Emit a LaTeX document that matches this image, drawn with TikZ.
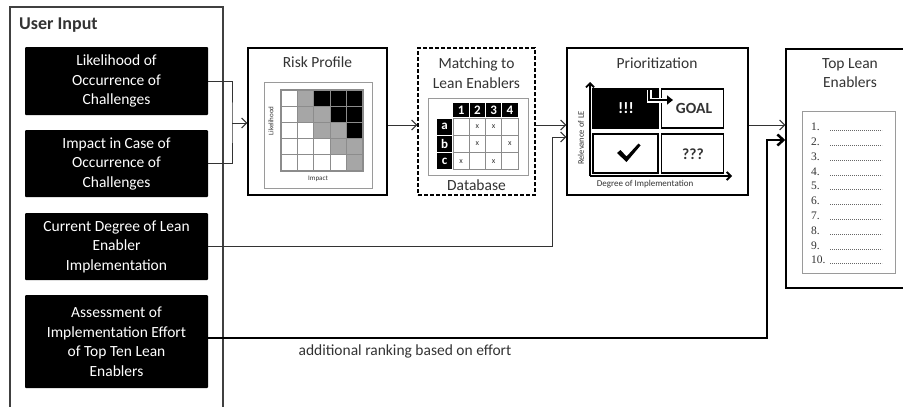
\documentclass[tikz,border=0pt]{standalone}
\usepackage{fontspec}
\setmainfont{Carlito}
\newfontfamily\listfont{Liberation Serif}
\usetikzlibrary{arrows.meta}
\definecolor{txt}{HTML}{333333}
\definecolor{cellgray}{HTML}{A6A6A6}
\definecolor{gridline}{HTML}{8C8C8C}
\definecolor{framegray}{HTML}{9A9A9A}
\begin{document}
\begin{tikzpicture}[x=1pt,y=-1pt,
  inbox/.style={fill=black, text=white, font=\fontsize{15.5}{19.5}\selectfont, align=center, minimum width=183pt, inner sep=0pt, rounded corners=1pt},
  stage/.style={draw=black, line width=1.5pt, fill=white, inner sep=0pt},
  ttl/.style={text=txt, font=\fontsize{15.5}{19.5}\selectfont, align=center, inner sep=0pt},
  small/.style={text=txt, font=\fontsize{8}{9}\selectfont, inner sep=0pt},
  conn/.style={draw=black!80, line width=1pt},
  barb/.style={-{Straight Barb[length=5pt,width=10pt]}},
  innerframe/.style={draw=framegray, line width=1pt},
  quad/.style={draw=black, line width=1.2pt, inner sep=0pt}
]
\useasboundingbox (0,0) rectangle (903,407);
\clip (0,0) rectangle (903,407);

% User input frame
\node[draw=black!75, line width=1.2pt, minimum width=213pt, minimum height=430pt, inner sep=0pt] (userinput) at (116.5,222) {};
\node[anchor=west, text=txt, font=\bfseries\fontsize{18}{20}\selectfont, inner sep=0pt] (uititle) at (19,25) {User Input};

\node[inbox, minimum height=68pt] (b1) at (116.5,81) {Likelihood of\\Occurrence of\\Challenges};
\node[inbox, minimum height=67pt] (b2) at (116.5,163.5) {Impact in Case of\\Occurrence of\\Challenges};
\node[inbox, minimum height=67pt] (b3) at (116.5,246.5) {Current Degree of Lean\\Enabler\\Implementation};
\node[inbox, minimum height=93pt] (b4) at (116.5,341.5) {Assessment of\\Implementation Effort\\of Top Ten Lean\\Enablers};

% Stage boxes
\node[stage, minimum width=139pt, minimum height=147pt] (risk) at (317.5,121.5) {};
\node[ttl] (risktitle) at (317.5,62) {Risk Profile};
\node[stage, dashed, dash pattern=on 4pt off 2pt, minimum width=117pt, minimum height=147pt] (match) at (476.5,121.5) {};
\node[ttl] (matchtitle) at (476.5,73) {Matching to\\Lean Enablers};
\node[ttl] (dbtitle) at (476.5,185) {Database};
\node[stage, minimum width=181pt, minimum height=147pt] (prio) at (657.5,121.5) {};
\node[ttl] (priotitle) at (657,63) {Prioritization};
\node[stage, minimum width=125pt, minimum height=239pt] (top) at (848.5,168.5) {};
\node[ttl] (toptitle) at (850,73) {Top Lean\\Enablers};

% Risk profile matrix
\draw[innerframe] (264,82) rectangle (372,188);
\foreach \c/\r/\col in {0/0/white,1/0/cellgray,2/0/black,3/0/black,4/0/black,
  0/1/white,1/1/cellgray,2/1/cellgray,3/1/black,4/1/black,
  0/2/white,1/2/white,2/2/cellgray,3/2/cellgray,4/2/black,
  0/3/white,1/3/white,2/3/white,3/3/cellgray,4/3/cellgray,
  0/4/white,1/4/white,2/4/white,3/4/white,4/4/cellgray}
  \filldraw[fill=\col, draw=gridline, line width=1.2pt] ({281+\c*16.4},{90+\r*16.2}) rectangle ++(16.4,16.2);
\node[small, font=\fontsize{7}{8}\selectfont, rotate=90] (likel) at (271,121) {Likelihood};
\node[small, font=\fontsize{7}{8}\selectfont] (impact) at (318,179) {Impact};

% Matching table
\draw[innerframe] (428,98) rectangle (528,175);
\foreach \c in {1,...,4}
  \node[fill=black, text=white, font=\bfseries\fontsize{13}{14}\selectfont, minimum width=15.3pt, minimum height=13.5pt, inner sep=0pt] (hd\c) at ({453+(\c-0.5)*16.25},109.8) {\c};
\foreach \l/\j in {a/0,b/1,c/2}
  \node[fill=black, text=white, font=\bfseries\fontsize{13}{14}\selectfont, minimum width=15pt, minimum height=16.3pt, inner sep=0pt] (rl\l) at (444.5,{118+(\j+0.5)*17.3}) {\l};
\foreach \c in {0,...,3}
  \foreach \j in {0,1,2}
    \draw[draw=gridline, line width=1pt] ({453+\c*16.25},{118+\j*17.3}) rectangle ++(16.25,17.3);
\foreach \c/\j in {2/0,3/0,2/1,4/1,1/2,3/2}
  \node[small] (mk\c\j) at ({453+(\c-0.5)*16.25},{118+(\j+0.5)*17.3}) {x};

% Prioritization
\node[quad, fill=black, minimum width=65pt, minimum height=39pt] (qtl) at (625.5,108.5) {};
\node[quad, minimum width=62pt, minimum height=39pt] (qtr) at (692.5,108.5) {};
\node[quad, minimum width=65pt, minimum height=39pt] (qbl) at (625.5,153.5) {};
\node[quad, minimum width=62pt, minimum height=39pt] (qbr) at (692.5,153.5) {};
\node[text=white, font=\bfseries\fontsize{16}{18}\selectfont, inner sep=0pt] (excl) at (626,108) {!!!};
\node[text=txt, font=\bfseries\fontsize{15.5}{18}\selectfont, inner sep=0pt] (goal) at (694,108) {GOAL};
\node[text=txt, font=\bfseries\fontsize{15.5}{18}\selectfont, inner sep=0pt] (qqq) at (693,154) {???};
\fill[black] (617,153) -- (620.5,150) -- (626.5,156.5) -- (638.5,143.5) -- (640.5,145.5) -- (626.5,162) -- cycle;
\draw[line width=2.5pt, -{Triangle[length=6pt,width=9pt]}, preaction={draw=white, line width=5pt}] (649,90) |- (673,100);
\coordinate (origin) at (590,176);
\draw[line width=1.8pt, -{Straight Barb[length=4pt,width=8pt]}] (origin) -- (590,82);
\draw[line width=1.8pt, -{Straight Barb[length=4pt,width=8pt]}] (origin) -- (732,176);
\node[small, rotate=90, font=\fontsize{8.5}{9}\selectfont] (rel) at (581,138) {Relevance of LE};
\node[small, font=\fontsize{9}{10}\selectfont] (deg) at (645,184) {Degree of Implementation};

% Top list
\draw[innerframe] (802,111) rectangle (895,273);
\foreach \i in {1,...,10} {
  \node[anchor=west, text=txt, font=\listfont\fontsize{11.5}{12}\selectfont, inner sep=0pt] (li\i) at (811,{127+(\i-1)*14.8}) {\i.};
  \draw[black!60, line width=0.7pt, dash pattern=on 1.2pt off 0.8pt] (830,{130.5+(\i-1)*14.8}) -- (882,{130.5+(\i-1)*14.8});
}

% Connectors
\coordinate (join) at (232,123);
\coordinate (row) at (0,125);
\draw[conn] (b1.east) -| (join) |- (b2.east);
\draw[conn,barb] (join) -- (risk.west |- join);
\draw[conn,barb] (risk.east |- row) -- (match.west |- row);
\draw[conn,barb] (match.east |- row) -- (prio.west |- row);
\draw[conn,barb] (prio.east |- row) -- (top.west |- row);
\coordinate (bend3) at (552,137);
\draw[conn,barb] (b3.east) -| (bend3) -- (prio.west |- bend3);
\coordinate (bend4) at (767,140);
\draw[line width=2.5pt, -{Straight Barb[length=6pt,width=11pt]}] ([yshift=3.5pt]b4.east) -| (bend4) -- (top.west |- bend4);
\node[ttl] (effortlbl) at (405,351) {additional ranking based on effort};
\end{tikzpicture}
\end{document}
